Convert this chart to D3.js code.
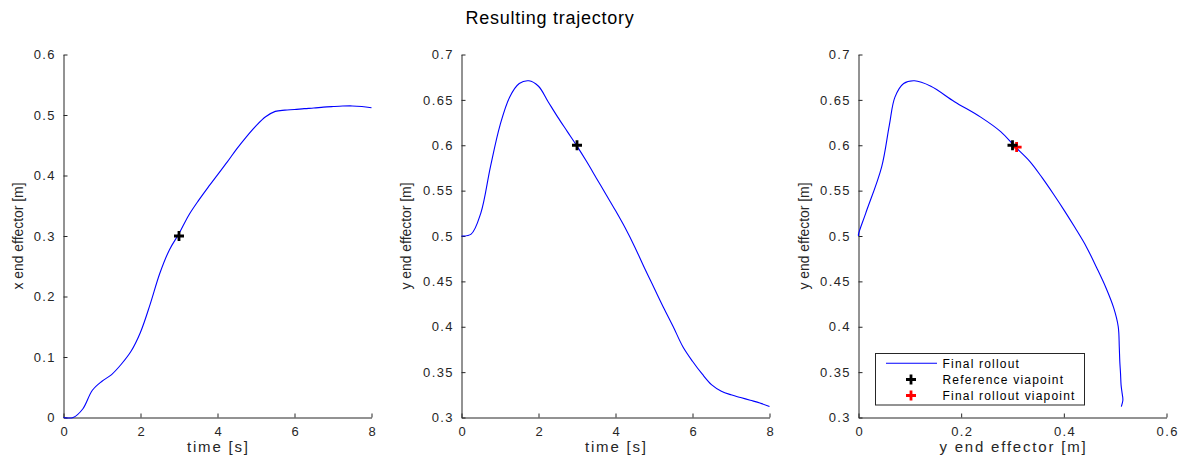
<!DOCTYPE html>
<html><head><meta charset="utf-8">
<script src="https://cdn.jsdelivr.net/npm/d3@7"></script>
<style>
body{margin:0;background:#fff}
text{font-family:"Liberation Sans",Arial,Helvetica,sans-serif}
</style>
</head><body>
<svg id="chart" width="1184" height="461"></svg>
<script>
// ---- data ----
const time = [0,0.25,0.5,0.75,1,1.25,1.5,1.75,2,2.25,2.5,2.75,3,3.25,3.5,3.75,4,4.25,4.5,4.75,5,5.25,5.5,5.75,6,6.25,6.5,6.75,7,7.25,7.5,7.75,8];
const xEndEffector = [0,0.000,0.014,0.045,0.060,0.071,0.088,0.109,0.141,0.187,0.238,0.277,0.304,0.334,0.358,0.380,0.401,0.422,0.444,0.464,0.482,0.497,0.506,0.508,0.509,0.5105,0.5115,0.513,0.514,0.5148,0.5150,0.514,0.512];
const yEndEffector = [0.500,0.502,0.525,0.576,0.622,0.653,0.668,0.671,0.665,0.648,0.631,0.615,0.599,0.582,0.564,0.546,0.528,0.509,0.488,0.465,0.443,0.421,0.400,0.378,0.362,0.348,0.336,0.329,0.325,0.322,0.319,0.316,0.312];
const referenceViapoint = [3, 0.300, 0.600];   // t, x, y
const rolloutViapoint = [0.308, 0.598];        // x, y
const timeTicks = [0,2,4,6,8];
const xTicks = [0,0.1,0.2,0.3,0.4,0.5,0.6];
const yTicks = [0.3,0.35,0.4,0.45,0.5,0.55,0.6,0.65,0.7];
const xyTicks = [0,0.2,0.4,0.6];
const legendLabels = ["Final rollout","Reference viapoint","Final rollout viapoint"];
const titleText = "Resulting trajectory";

// ---- layout ----
const svg = d3.select("#chart");
const plotTop = 54.5, plotBottom = 417.5;
const axisColor = "#262626";
const smooth = d3.curveCatmullRom.alpha(0.5);
const panels = [
  {x0:63.5, x1:371.5, xd:[0,8], yd:[0,0.6], xt:timeTicks, yt:xTicks, xl:"time [s]", yl:"x end effector [m]", ylx:23,
   pts: time.map((t,i)=>[t,xEndEffector[i]]),
   marks:[{p:[referenceViapoint[0],referenceViapoint[1]], c:"#000"}]},
  {x0:461.5, x1:769.5, xd:[0,8], yd:[0.3,0.7], xt:timeTicks, yt:yTicks, xl:"time [s]", yl:"y end effector [m]", ylx:411,
   pts: time.map((t,i)=>[t,yEndEffector[i]]),
   marks:[{p:[referenceViapoint[0],referenceViapoint[2]], c:"#000"}]},
  {x0:858.5, x1:1166.5, xd:[0,0.6], yd:[0.3,0.7], xt:xyTicks, yt:yTicks, xl:"y end effector [m]", yl:"y end effector [m]", ylx:809,
   pts: time.map((t,i)=>[xEndEffector[i],yEndEffector[i]]),
   marks:[{p:rolloutViapoint, c:"#ff0000"},{p:[referenceViapoint[1],referenceViapoint[2]], c:"#000"}]}
];

const plusPath = "M-5,0H5M0,-5V5";

panels.forEach((P, k) => {
  const x = d3.scaleLinear().domain(P.xd).range([P.x0, P.x1]);
  const y = d3.scaleLinear().domain(P.yd).range([plotBottom, plotTop]);

  const gy = svg.append("g").attr("transform", `translate(${P.x0},0)`)
    .call(d3.axisLeft(y).tickValues(P.yt).tickFormat(d=>String(d)).tickSizeInner(-4).tickSizeOuter(0).tickPadding(7.5));
  const gx = svg.append("g").attr("transform", `translate(0,${plotBottom})`)
    .call(d3.axisBottom(x).tickValues(P.xt).tickFormat(d=>String(d)).tickSizeInner(-4).tickSizeOuter(0).tickPadding(9.5));
  [gx, gy].forEach(g => {
    g.attr("color", axisColor);
    g.selectAll("text").attr("font-size", 13).attr("font-family", '"Liberation Sans",Arial,sans-serif')
      .attr("letter-spacing", 1.4).attr("fill", axisColor);
    g.selectAll("path.domain, line").attr("stroke-width", 1);
  });
  gx.selectAll("text").attr("dx", 0.7);

  // axis labels
  svg.append("text").attr("x", (P.x0+P.x1)/2 + 0.9).attr("y", 452)
    .attr("text-anchor","middle").attr("font-size",15).attr("letter-spacing",1.8)
    .attr("fill",axisColor).text(P.xl);
  svg.append("text").attr("transform", `translate(${P.ylx},236) rotate(-90)`)
    .attr("text-anchor","middle").attr("font-size",15)
    .attr("textLength",107).attr("lengthAdjust","spacingAndGlyphs")
    .attr("fill",axisColor).text(P.yl);

  // curve
  svg.append("path").datum(P.pts)
    .attr("fill","none").attr("stroke","#0000ff").attr("stroke-width",1.1)
    .attr("d", d3.line().x(d=>x(d[0])).y(d=>y(d[1])).curve(smooth));

  // markers
  P.marks.forEach(m => {
    svg.append("path").attr("d", plusPath)
      .attr("transform", `translate(${x(m.p[0])},${y(m.p[1])})`)
      .attr("stroke", m.c).attr("stroke-width", 2.8).attr("fill","none");
  });

  // legend on third panel
  if (k === 2) {
    const lg = svg.append("g");
    lg.append("rect").attr("x",875.5).attr("y",353.5).attr("width",209).attr("height",51.5)
      .attr("fill","#fff").attr("stroke",axisColor).attr("stroke-width",1);
    const rows = [363.3, 379.5, 395.5];
    lg.append("line").attr("x1",886).attr("x2",937).attr("y1",rows[0]).attr("y2",rows[0])
      .attr("stroke","#0000ff").attr("stroke-width",1.1);
    lg.append("path").attr("d",plusPath).attr("transform",`translate(911,${rows[1]})`)
      .attr("stroke","#000").attr("stroke-width",2.8);
    lg.append("path").attr("d",plusPath).attr("transform",`translate(911,${rows[2]})`)
      .attr("stroke","#ff0000").attr("stroke-width",2.8);
    legendLabels.forEach((s,i) => {
      lg.append("text").attr("x",942.5).attr("y",rows[i]+4.3)
        .attr("font-size",12).attr("letter-spacing",1.2).attr("fill","#000").text(s);
    });
  }
});

svg.append("text").attr("x", 550).attr("y", 23.5).attr("text-anchor","middle")
  .attr("font-size",18).attr("letter-spacing",0.75).attr("fill","#000").text(titleText);
</script>
</body></html>
